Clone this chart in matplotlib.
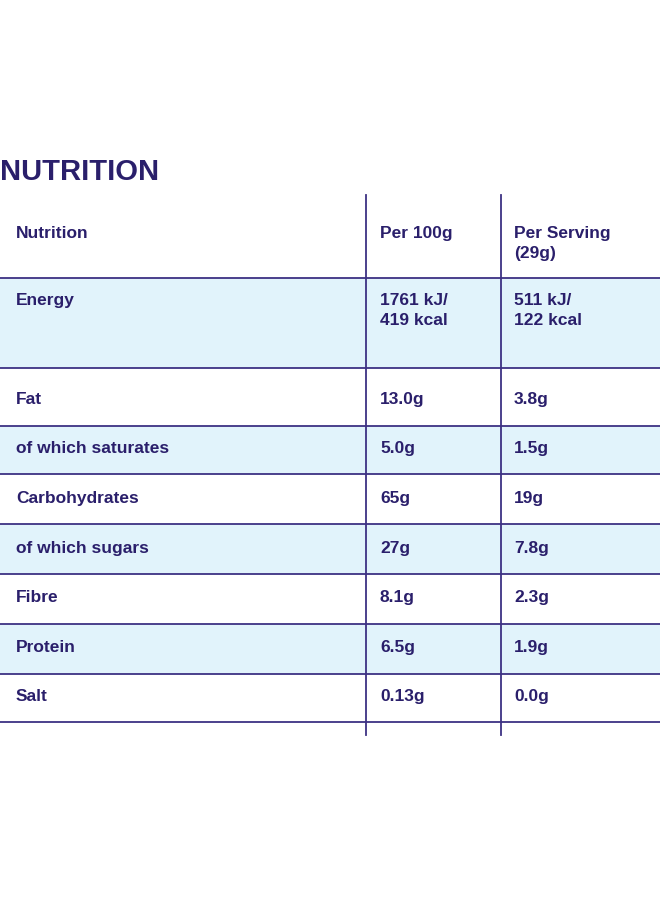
import matplotlib.pyplot as plt
from matplotlib.patches import Rectangle

# Table content
nutrients = ['Energy', 'Fat', 'of which saturates', 'Carbohydrates',
             'of which sugars', 'Fibre', 'Protein', 'Salt']
per_100g = ['1761 kJ/\n419 kcal', '13.0g', '5.0g', '65g', '27g', '8.1g', '6.5g', '0.13g']
per_serving = ['511 kJ/\n122 kcal', '3.8g', '1.5g', '19g', '7.8g', '2.3g', '1.9g', '0.0g']
headers = ['Nutrition', 'Per 100g', 'Per Serving\n(29g)']

# Layout in pixel coordinates
row_tops = [278, 368, 426, 474, 524, 574, 624, 674]
row_bottoms = [368, 426, 474, 524, 574, 624, 674, 722]
text_y = [302, 401, 450, 500, 550, 599, 649, 698]
shaded = [True, False, True, False, True, False, True, False]
col_x = [16, 380, 514]
vlines = [366, 501]

ink = '#2a1f6b'
line_col = '#3d3183'
fill = '#e1f3fb'

fig = plt.figure(figsize=(6.6, 9), dpi=100)
ax = fig.add_axes([0, 0, 1, 1])
ax.set_xlim(0, 660)
ax.set_ylim(900, 0)
ax.axis('off')

ax.text(0, 172, 'NUTRITION', fontsize=21, fontweight='bold', color=ink,
        ha='left', va='center', family='Liberation Sans')

for top, bot, s in zip(row_tops, row_bottoms, shaded):
    if s:
        ax.add_patch(Rectangle((0, top), 660, bot - top, color=fill, lw=0))

for y in [278] + row_bottoms:
    ax.plot([0, 660], [y, y], color=line_col, lw=1.3)
for x in vlines:
    ax.plot([x, x], [195, 735], color=line_col, lw=1.3)

tkw = dict(fontsize=12.5, fontweight='bold', color=ink, family='Liberation Sans',
           ha='left', va='top', linespacing=1.45)
for x, h in zip(col_x, headers):
    ax.text(x, 226, h, **tkw)

for i, y in enumerate(text_y):
    for x, val in zip(col_x, [nutrients[i], per_100g[i], per_serving[i]]):
        ax.text(x, y - 9, val, **tkw)

fig.savefig('out.png', dpi=100, facecolor='white')
